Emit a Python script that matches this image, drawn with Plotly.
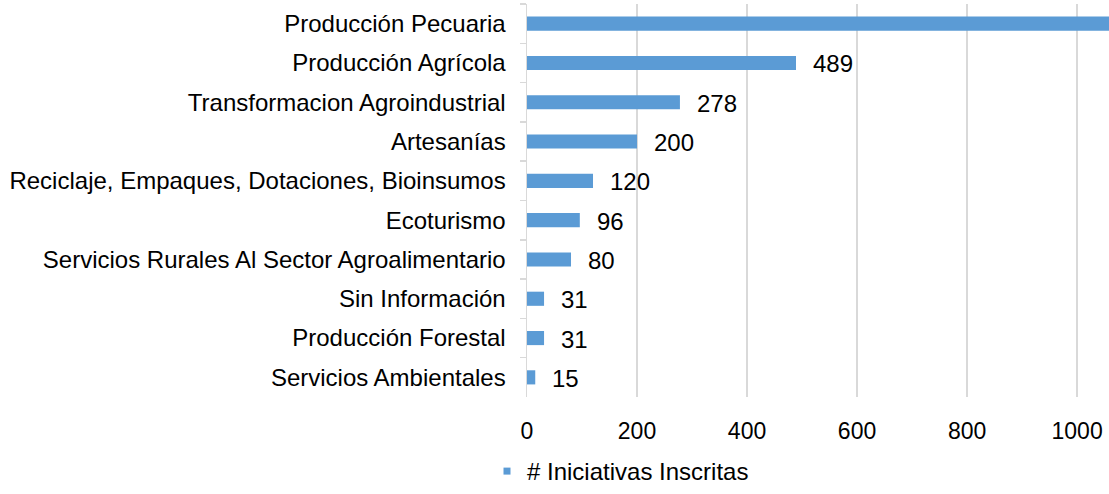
import plotly.graph_objects as go

categories = [
    "Producción Pecuaria",
    "Producción Agrícola",
    "Transformacion Agroindustrial",
    "Artesanías",
    "Reciclaje, Empaques, Dotaciones, Bioinsumos",
    "Ecoturismo",
    "Servicios Rurales Al Sector Agroalimentario",
    "Sin Información",
    "Producción Forestal",
    "Servicios Ambientales",
]
values = [1200, 489, 278, 200, 120, 96, 80, 31, 31, 15]
x_ticks = [0, 200, 400, 600, 800, 1000]
series_name = "# Iniciativas Inscritas"

FONT = "Liberation Sans, Arial, sans-serif"
BAR = "#5B9BD5"

fig = go.Figure()
fig.add_trace(go.Bar(
    y=categories, x=values, orientation="h",
    marker=dict(color=BAR, line=dict(width=0)),
    name=series_name, showlegend=False,
))
# legend entry with a small square marker
fig.add_trace(go.Scatter(
    x=[None], y=[None], mode="markers",
    marker=dict(symbol="square", size=7, color=BAR),
    name=series_name, showlegend=True,
))

for c, v in zip(categories, values):
    fig.add_annotation(
        x=v, y=c, text=str(v), showarrow=False,
        xanchor="left", xshift=15, yshift=-1,
        font=dict(family=FONT, size=24, color="#000000"),
    )

fig.update_layout(
    width=1109, height=494,
    margin=dict(l=527, r=0, t=4, b=97, autoexpand=False),
    paper_bgcolor="white", plot_bgcolor="white",
    bargap=0.64,
    font=dict(family=FONT, size=24, color="#000000"),
    legend=dict(
        orientation="h", xref="container", x=487 / 1109, xanchor="left",
        yref="container", y=-0.02, yanchor="bottom",
        font=dict(family=FONT, size=24, color="#000000"),
        itemwidth=30, bgcolor="rgba(0,0,0,0)",
        tracegroupgap=0,
    ),
)
fig.update_xaxes(
    range=[0, 1058], tickvals=x_ticks, ticktext=[str(t) for t in x_ticks],
    showgrid=True, gridcolor="#D9D9D9", gridwidth=1.5,
    zeroline=False, showline=False, ticks="",
    tickfont=dict(family=FONT, size=23, color="#000000"),
    ticklabelstandoff=18,
    automargin=False, fixedrange=True,
)
fig.update_yaxes(
    autorange="reversed", type="category",
    showline=True, linecolor="#D9D9D9", linewidth=1.5,
    ticks="outside", ticklen=6, tickcolor="#D9D9D9", tickwidth=1.5,
    tickson="boundaries", showgrid=False,
    tickfont=dict(family=FONT, size=24, color="#000000"),
    ticklabelstandoff=15,
    automargin=False, fixedrange=True,
)

fig.write_html(
    "out.html",
    config={"displayModeBar": False, "staticPlot": True},
    post_script="document.body.style.margin='0';document.body.style.padding='0';document.body.style.overflow='hidden';",
)
